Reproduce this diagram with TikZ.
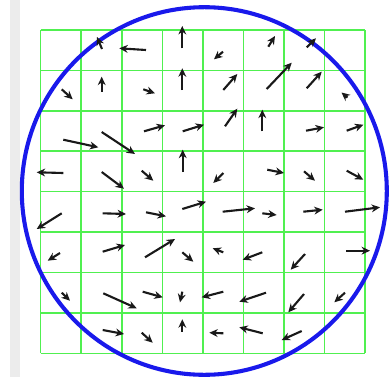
\documentclass[tikz,border=0pt]{standalone}
\usetikzlibrary{arrows.meta}
\definecolor{gridgreen}{RGB}{80,240,80}
\definecolor{ringblue}{RGB}{25,25,235}
\definecolor{stripgray}{RGB}{236,236,236}
\begin{document}
\begin{tikzpicture}[x=0.025cm, y=-0.025cm, line width=1.5pt,
  flow/.style={-{Stealth[length=6pt, width=5.6pt]}, black!90}]
  \useasboundingbox (0,0) rectangle (389,377);
  \fill[stripgray] (10,0) rectangle (20,377);
  % grid of cells
  \foreach \i in {0,...,8} {
    \draw[gridgreen, line width=1.1pt] ({40.7+40.54*\i},30) -- ({40.7+40.54*\i},353.3);
    \draw[gridgreen, line width=1.1pt] (40.7,{30+40.42*\i}) -- (365,{30+40.42*\i});
  }
  % boundary
  \draw[ringblue, line width=2.9pt] (204.3,191) ellipse (182.5 and 183.8);
  % field vectors, tail/head
  \foreach \ax/\ay/\bx/\by in {
      102/49/97/37, 146/50/119.3/48.3, 182.3/48.3/182.3/26, 223/51.7/214/59.3,
      268.3/46.7/275/36, 306.7/47.3/316/38.3,
      61.7/89.3/72.7/99.3, 101.7/91.7/101.7/76.7, 143.3/89.3/155/93.3, 182.3/90/182.3/68.3,
      223.3/90/237.3/74, 266.7/89/291.7/62.7, 306.7/88.3/321.7/71.7, 347.5/97.5/341.5/92.5,
      63.3/139.7/98.3/147.3, 101.7/132/135/154, 144/131.3/165/125.3, 182.7/131.3/204/124.7,
      225/126.3/237.3/108.7, 262.3/131.3/262.3/109.7, 306/130.7/324/127.3, 346.7/130.7/363.3/124.7,
      63.3/173/36.7/172.3, 101.7/172/124/188.7, 141.7/170.7/153.3/180.7, 182.7/172/182.7/149.7,
      223.3/173/213.3/183, 267.3/169.7/284/173, 304/171.3/315/180.7, 346.7/170.7/363.3/179.7,
      61.7/213.3/36.7/229, 102.7/213.3/126/214, 146/212.3/166/216.3, 182.3/209/206/201.7,
      222.7/211.7/255/208.3, 262.3/213.3/276.7/215, 303.3/211.7/322.7/209.7, 345/211.7/380/207.3,
      60/253/47.7/260.7, 102.7/251.7/125/245, 145/257.3/175/239, 182.3/252.3/193.3/261.7,
      223.3/252.3/212.7/248.3, 262.3/252.3/242.7/259.7, 305/254/290.7/269.7, 346/250.7/370/250.7,
      61.7/292.7/70/300.7, 103.3/293.3/136.7/308.3, 142.7/291.7/162.7/297.3, 182.3/291.7/180/302.3,
      223.3/291.7/201.7/297.3, 266/292.7/239.3/301.7, 304/294/288.3/312.3, 345/292.7/334.3/302.3,
      102.7/330/124/334, 141.7/332.7/152.7/342.7, 182.3/331.7/182.3/319.3,
      223.3/333.3/209.3/332.7, 262.7/333.3/239.3/327.3, 301.7/331/281.7/340}
    \draw[flow] (\ax,\ay) -- (\bx,\by);
\end{tikzpicture}
\end{document}
